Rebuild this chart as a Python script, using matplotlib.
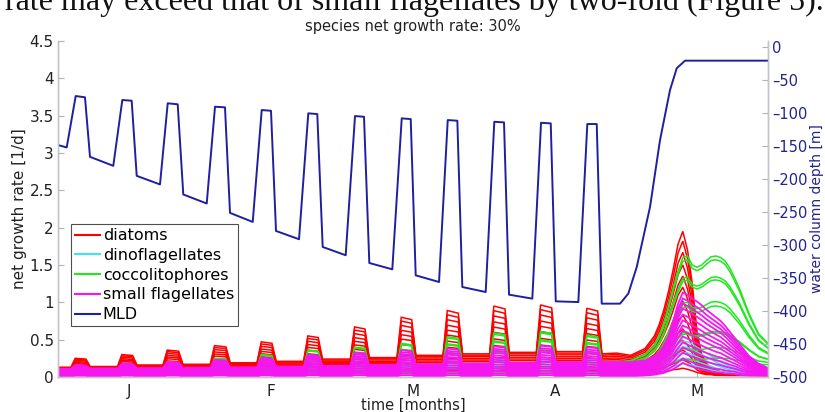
import matplotlib
matplotlib.use("Agg")
import matplotlib.pyplot as plt
import numpy as np

# ---------------- data ----------------
month_ticks_days = [15, 45, 75, 105, 135]
month_labels = ["J", "F", "M", "A", "M"]

# mixed layer depth (m), vertices
mld_days = [0.0, 1.84, 3.74, 5.70, 6.76, 11.68, 13.59, 15.57, 16.63, 21.55, 23.18, 25.29,
            26.47, 31.42, 33.17, 35.28, 36.34, 41.14, 43.04, 45.00, 46.06, 50.92, 52.88,
            54.78, 55.92, 60.78, 62.75, 64.65, 65.77, 70.63, 72.62, 74.52, 75.57, 80.50,
            82.34, 84.37, 85.42, 90.36, 92.18, 94.23, 95.29, 100.21, 102.05, 104.10,
            105.16, 109.93, 111.83, 113.82, 114.87, 118.74, 120.49, 122.27, 125.08,
            127.19, 129.30, 130.72, 132.47, 150.0]
mld_depth = [-148.7, -152.2, -74.4, -76.3, -166.5, -180.1, -80.4, -81.5, -195.3, -208.3,
             -85.4, -86.9, -223.5, -237.2, -90.6, -91.5, -251.4, -265.1, -95.6, -96.7,
             -278.8, -291.3, -100.6, -101.7, -303.0, -315.6, -104.7, -105.8, -327.3,
             -336.9, -108.2, -109.3, -346.0, -356.1, -110.8, -111.8, -363.7, -371.3,
             -113.4, -114.3, -375.3, -381.3, -114.9, -115.8, -385.4, -386.5, -116.8,
             -116.8, -388.9, -388.9, -373.7, -333.4, -242.3, -141.1, -65.3, -32.3,
             -20.8, -20.8]

# shallow-mixing episodes (start / end day) when growth pulses occur
pulse_start_days = [3.74, 13.59, 23.18, 33.17, 43.04, 52.88, 62.75, 72.62, 82.34, 92.18, 102.05, 111.83]
pulse_end_days = [5.70, 15.57, 25.29, 35.28, 45.00, 54.78, 64.65, 74.52, 84.37, 94.23, 104.10, 113.82]

# upper envelope: growth between pulses (13 values) and at each pulse (12 values)
diatom_base = [0.13, 0.14, 0.16, 0.17, 0.19, 0.21, 0.24, 0.26, 0.29, 0.31, 0.33, 0.34, 0.31]
diatom_peak = [0.25, 0.30, 0.36, 0.42, 0.47, 0.55, 0.67, 0.80, 0.89, 0.95, 0.965, 0.92]
dino_base = [0.04, 0.045, 0.05, 0.055, 0.06, 0.065, 0.07, 0.075, 0.08, 0.085, 0.09, 0.10, 0.12]
dino_peak = [0.05, 0.07, 0.09, 0.11, 0.13, 0.15, 0.17, 0.20, 0.22, 0.24, 0.25, 0.24]
cocco_base = [0.06, 0.07, 0.08, 0.09, 0.10, 0.11, 0.12, 0.13, 0.14, 0.15, 0.16, 0.17, 0.20]
cocco_peak = [0.08, 0.13, 0.20, 0.25, 0.30, 0.36, 0.40, 0.45, 0.54, 0.59, 0.61, 0.56]
flag_base = [0.11, 0.115, 0.12, 0.125, 0.13, 0.14, 0.15, 0.16, 0.17, 0.18, 0.19, 0.20, 0.20]
flag_peak = [0.16, 0.18, 0.20, 0.23, 0.26, 0.30, 0.33, 0.36, 0.38, 0.41, 0.42, 0.40]

# lower envelope during the pulse period (between pulses, at pulses)
diatom_floor = [0.05, 0.07]
dino_floor = [0.02, 0.03]
cocco_floor = [0.03, 0.04]
flag_floor = [0.0, 0.01]

# spring bloom period
bloom_days = [118, 121, 124, 126, 127, 128, 129, 130, 131, 132, 133, 134, 135, 136, 137,
              138, 139, 140, 141, 142, 143, 144, 146, 148, 150]
diatom_bloom_top = [0.32, 0.29, 0.38, 0.55, 0.70, 0.90, 1.15, 1.45, 1.78, 1.95, 1.70, 1.25,
                    0.60, 0.30, 0.18, 0.12, 0.09, 0.07, 0.06, 0.05, 0.04, 0.04, 0.03, 0.03, 0.02]
diatom_bloom_low = [0.05, 0.05, 0.05, 0.05, 0.05, 0.06, 0.06, 0.07, 0.07, 0.08, 0.07, 0.06,
                    0.05, 0.04, 0.03, 0.03, 0.02, 0.02, 0.02, 0.02, 0.02, 0.02, 0.02, 0.02, 0.02]
dino_bloom_top = [0.12, 0.12, 0.15, 0.20, 0.23, 0.27, 0.32, 0.38, 0.44, 0.48, 0.47, 0.44,
                  0.40, 0.36, 0.32, 0.28, 0.24, 0.20, 0.17, 0.14, 0.12, 0.10, 0.07, 0.05, 0.04]
dino_bloom_low = [0.02, 0.02, 0.03, 0.04, 0.05, 0.06, 0.07, 0.08, 0.09, 0.10, 0.10, 0.09,
                  0.08, 0.07, 0.06, 0.05, 0.04, 0.04, 0.03, 0.03, 0.03, 0.02, 0.02, 0.02, 0.02]
cocco_bloom_top = [0.20, 0.22, 0.30, 0.42, 0.55, 0.72, 0.95, 1.20, 1.42, 1.60, 1.62, 1.50,
                   1.47, 1.50, 1.56, 1.61, 1.62, 1.60, 1.55, 1.45, 1.32, 1.18, 0.85, 0.58, 0.45]
cocco_bloom_low = [0.04, 0.05, 0.06, 0.07, 0.08, 0.10, 0.12, 0.14, 0.15, 0.16, 0.16, 0.16,
                   0.16, 0.17, 0.17, 0.18, 0.18, 0.18, 0.18, 0.18, 0.17, 0.17, 0.16, 0.15, 0.15]
flag_bloom_top = [0.20, 0.20, 0.22, 0.28, 0.33, 0.42, 0.55, 0.75, 0.98, 1.13, 1.10, 1.05,
                  1.01, 0.96, 0.90, 0.85, 0.80, 0.75, 0.68, 0.60, 0.52, 0.44, 0.28, 0.18, 0.12]
flag_bloom_low = [0.00, 0.00, 0.01, 0.02, 0.03, 0.04, 0.06, 0.08, 0.11, 0.15, 0.12, 0.10,
                  0.08, 0.06, 0.05, 0.04, 0.03, 0.03, 0.02, 0.02, 0.02, 0.01, 0.01, 0.01, 0.01]

# position of each model run between lower and upper envelope
diatom_levels = [1.0, 0.93, 0.85, 0.76, 0.68, 0.60, 0.50, 0.40, 0.30, 0.22, 0.15, 0.08, 0.02]
dino_levels = [1.0, 0.8, 0.6, 0.4, 0.2]
cocco_levels = [1.0, 0.965, 0.806, 0.778, 0.576, 0.535, 0.30, 0.285, 0.15, 0.05]
flag_levels = [1.0, 0.92, 0.85, 0.78, 0.70, 0.62, 0.55, 0.48, 0.40, 0.32, 0.25, 0.18, 0.10, 0.04]

species_names = ["diatoms", "dinoflagellates", "coccolitophores", "small flagellates"]
species_colors = ["#ff0000", "#3ee3ef", "#1fe81f", "#f516f0"]
species_widths = [1.1, 1.1, 1.1, 1.3]

right_tick_values = list(range(-500, 1, 50))
page_text = "rate may exceed that of small flagellates by two-fold (Figure 5)."


# ---------------- helpers ----------------
def envelope(base, peak, bloom_vals):
    t = [0.0]
    v = [base[0]]
    for k in range(len(pulse_start_days)):
        s, e = pulse_start_days[k], pulse_end_days[k]
        t += [s - 1.0, s - 0.1, e + 0.2, e + 1.1]
        v += [base[k], peak[k], 0.96 * peak[k], base[k + 1]]
    t += list(bloom_days)
    v += list(bloom_vals)
    return np.array(t), np.array(v)


def floor_env(floor, bloom_vals):
    nb = len(pulse_start_days)
    return envelope([floor[0]] * (nb + 1), [floor[1]] * nb, bloom_vals)


groups = [
    (diatom_base, diatom_peak, diatom_bloom_top, diatom_floor, diatom_bloom_low, diatom_levels),
    (dino_base, dino_peak, dino_bloom_top, dino_floor, dino_bloom_low, dino_levels),
    (cocco_base, cocco_peak, cocco_bloom_top, cocco_floor, cocco_bloom_low, cocco_levels),
    (flag_base, flag_peak, flag_bloom_top, flag_floor, flag_bloom_low, flag_levels),
]

# ---------------- figure ----------------
fig = plt.figure(figsize=(8.25, 4.12), dpi=100)
ax = fig.add_axes([0.0703, 0.085, 0.8606, 0.8155])
ax2 = ax.twinx()

handles = []
for (base, peak, btop, flo, blow, levels), col, lw in zip(groups, species_colors, species_widths):
    t, top = envelope(base, peak, btop)
    _, low = floor_env(flo, blow)
    for f in levels:
        line, = ax.plot(t, f * top + (1 - f) * low, color=col, lw=lw, solid_joinstyle="miter")
    handles.append(line)

mld_line, = ax2.plot(mld_days, mld_depth, color="#1f1fa0", lw=1.4)
handles.append(mld_line)

ax.set_xlim(0, 150)
ax.set_ylim(0, 4.5)
ax2.set_ylim(-500, 9)
ax.set_yticks(np.arange(0, 4.51, 0.5))
ax.set_yticklabels(["0", "0.5", "1", "1.5", "2", "2.5", "3", "3.5", "4", "4.5"])
ax2.set_yticks(right_tick_values)
ax2.set_yticklabels([("\u2013" + str(abs(v))) if v < 0 else "0" for v in right_tick_values])
ax.set_xticks(month_ticks_days)
ax.set_xticklabels(month_labels)

spine_col = "#c4c4cc"
for a in (ax, ax2):
    a.spines["top"].set_visible(False)
    for s in ("left", "right", "bottom"):
        a.spines[s].set_color(spine_col)
        a.spines[s].set_linewidth(1.0)
ax.tick_params(axis="both", direction="in", length=4, color="#b0b0b0", labelsize=11,
               labelcolor="#222222", pad=3)
ax.tick_params(axis="x", pad=5)
ax2.tick_params(axis="y", direction="in", length=4, color="#b0b0c0", labelsize=10.5,
                labelcolor="#23238f", pad=3)

ax.set_ylabel("net growth rate [1/d]", fontsize=11, color="#222222")
ax.yaxis.set_label_coords(-0.044, 0.5)
ax2.set_ylabel("water column depth [m]", fontsize=10, color="#23238f")
ax2.yaxis.set_label_coords(1.059, 0.5)
ax.set_xlabel("time [months]", fontsize=10.5, color="#222222")
ax.xaxis.set_label_coords(0.5, -0.062)
ax.set_title("species net growth rate: 30%", fontsize=10.5, color="#222222", pad=7)

fig.text(0.998, 1 - 10 / 412, page_text, ha="right", va="baseline",
         fontsize=23, family="Liberation Serif", color="#111111")

leg = ax2.legend(handles, species_names + ["MLD"], loc="upper left",
                 bbox_to_anchor=(0.018, 0.455), fontsize=11.5, frameon=True, fancybox=False,
                 handlelength=1.55, handletextpad=0.2, labelspacing=0.3, borderpad=0.25,
                 borderaxespad=0.0)
leg.get_frame().set_edgecolor("#222222")
leg.get_frame().set_linewidth(0.8)
for lh in leg.get_lines():
    lh.set_linewidth(1.5)

fig.savefig("out.png", dpi=100)
